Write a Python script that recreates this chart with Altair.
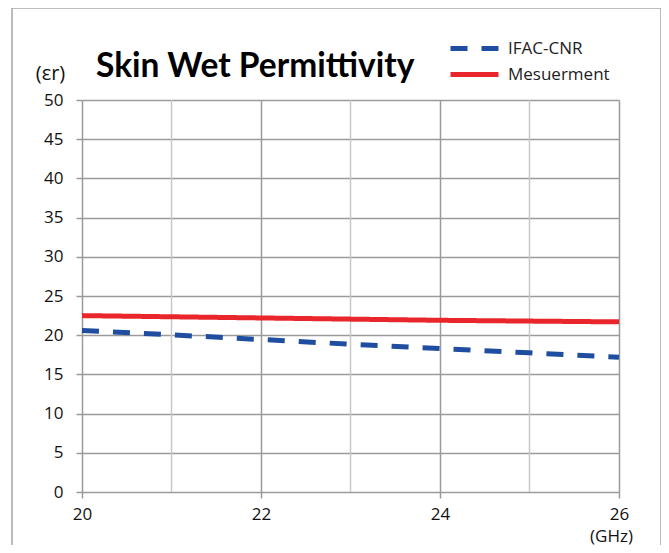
import altair as alt
import pandas as pd

# ---- data ----
freq = [20, 21, 22, 23, 24, 25, 26]
ifac_cnr = [20.6, 20.05, 19.45, 18.85, 18.3, 17.75, 17.2]
measurement = [22.5, 22.35, 22.2, 22.05, 21.9, 21.8, 21.7]
series_names = ["IFAC-CNR", "Mesuerment"]
x_major = [20, 22, 24, 26]
x_minor = [21, 23, 25]
y_ticks = [0, 5, 10, 15, 20, 25, 30, 35, 40, 45, 50]
chart_title = "Skin Wet Permittivity"
y_title = "(εr)"
x_title = "(GHz)"

BLUE = "#1f4ea0"
RED = "#e8262b"
GRID = "#9a9a9a"
MINOR = "#c8c8c8"
FONT = "Open Sans"
W, H = 537, 392

rows = []
for f, v in zip(freq, ifac_cnr):
    rows.append({"freq": f, "value": v, "series": series_names[0]})
for f, v in zip(freq, measurement):
    rows.append({"freq": f, "value": v, "series": series_names[1]})
df = pd.DataFrame(rows)

xscale = alt.Scale(domain=[20, 26], nice=False, zero=False)
yscale = alt.Scale(domain=[0, 50], nice=False)

legend_def = alt.Legend(
    title=None, orient="none", legendX=382, legendY=-62,
    symbolType="M-3,0L3,0", symbolSize=256, symbolStrokeWidth=5,
    labelFont=FONT, labelFontSize=17, labelColor="#222", labelOffset=23,
    rowPadding=5,
)

minor = alt.Chart(pd.DataFrame({"freq": x_minor})).mark_rule(
    color=MINOR, strokeWidth=1.5
).encode(
    x=alt.X("freq:Q", scale=xscale),
    y=alt.value(0), y2=alt.value(H),
)

lines = alt.Chart(df).mark_line(strokeWidth=5, clip=False).encode(
    x=alt.X("freq:Q", scale=xscale, axis=alt.Axis(
        values=x_major, title=x_title, domain=False,
        grid=True, gridColor=GRID, gridWidth=1.5,
        tickColor=GRID, tickWidth=1.5, tickSize=6,
        labelFont=FONT, labelFontSize=17, labelColor="#111", labelPadding=8,
        labelFlush=False, labelOverlap=False, format="d",
        titleFont=FONT, titleFontSize=17, titleFontWeight="normal", titleColor="#111",
        titleX=529, titleY=44, titleAlign="center", titleBaseline="middle",
    )),
    y=alt.Y("value:Q", scale=yscale, axis=alt.Axis(
        values=y_ticks, title=y_title, domain=False,
        grid=True, gridColor=GRID, gridWidth=1.5,
        tickColor=GRID, tickWidth=1.5, tickSize=6,
        labelFont=FONT, labelFontSize=17, labelColor="#111", labelPadding=13,
        labelOverlap=False, format="d",
        titleFont=FONT, titleFontSize=20, titleFontWeight="normal", titleColor="#111",
        titleAngle=0, titleX=-32, titleY=-27, titleAlign="center", titleBaseline="middle",
    )),
    color=alt.Color("series:N", scale=alt.Scale(domain=series_names, range=[BLUE, RED]),
                    legend=legend_def),
    strokeDash=alt.StrokeDash("series:N",
                              scale=alt.Scale(domain=series_names, range=[[17, 14], [1, 0]]),
                              legend=legend_def),
)

title = alt.Chart(pd.DataFrame({"t": [chart_title]})).mark_text(
    align="left", baseline="alphabetic", font="Lato", fontWeight="bold",
    fontSize=33.5, color="#000"
).encode(x=alt.value(14), y=alt.value(-23), text="t:N")

frame_df = pd.DataFrame({"a": [0]})
frame_left = alt.Chart(frame_df).mark_rule(color="#a6a6a6", strokeWidth=1.5).encode(
    x=alt.value(-70), y=alt.value(-92), y2=alt.value(445))
frame_top = alt.Chart(frame_df).mark_rule(color="#a6a6a6", strokeWidth=1.5).encode(
    x=alt.value(-70), x2=alt.value(579), y=alt.value(-92))
frame_right = alt.Chart(frame_df).mark_rule(color="#a6a6a6", strokeWidth=1.5).encode(
    x=alt.value(579), y=alt.value(-92), y2=alt.value(445))

chart = alt.layer(minor, lines, title, frame_left, frame_top, frame_right).properties(
    width=W, height=H,
    autosize=alt.AutoSizeParams(type="none"),
    padding={"left": 74, "top": 92, "right": 42, "bottom": 53},
    background="white",
).configure_view(stroke=None)

chart.save("out.html", embed_options={"renderer": "svg", "actions": False})
